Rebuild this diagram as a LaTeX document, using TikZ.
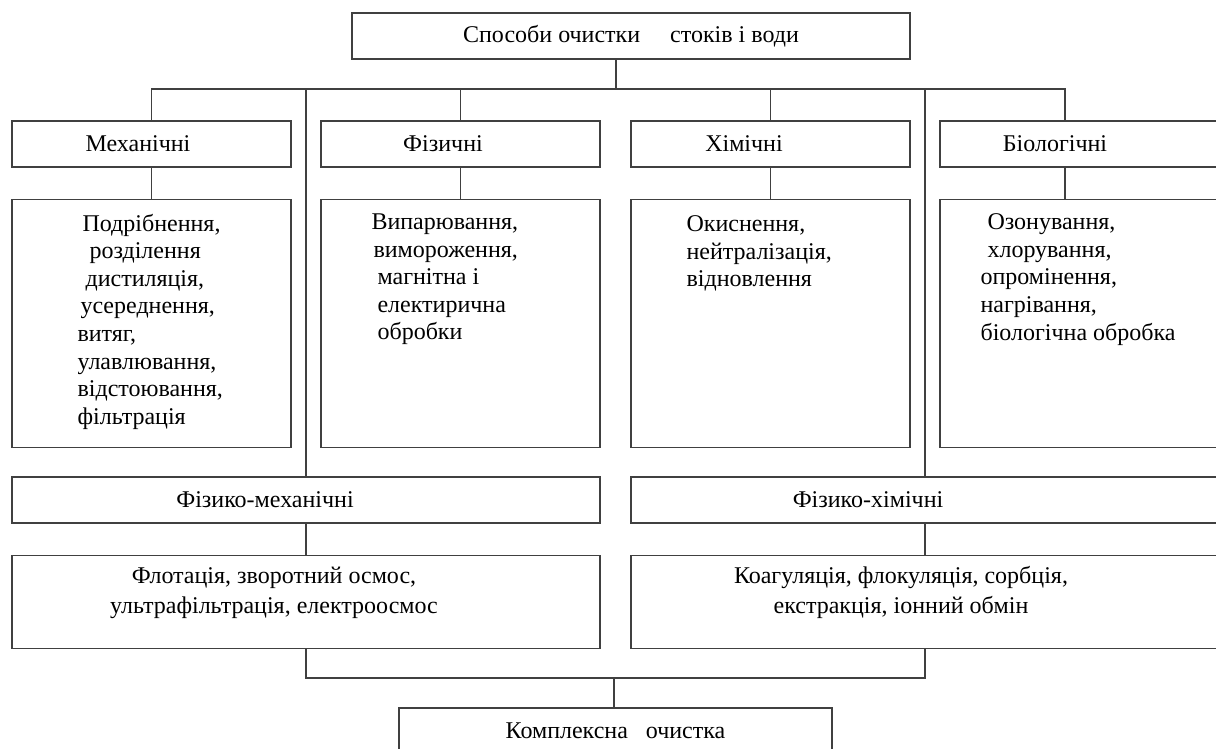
\documentclass[tikz,border=0pt]{standalone}
\usepackage{fontspec}
\setmainfont{Liberation Serif}
\usetikzlibrary{positioning}

\begin{document}
\begin{tikzpicture}[x=1pt, y=-1pt,
  every node/.style={font=\fontsize{24}{27.6}\selectfont},
  box/.style={draw=black!75, line width=1.3pt, inner sep=0pt, minimum height=46pt},
  narrow/.style={box, minimum width=279pt},
  wide/.style={box, minimum width=588pt},
  list/.style={box, minimum width=279pt, minimum height=248pt},
  items/.style={align=left, inner sep=0pt},
  lines/.style={align=center, inner sep=0pt, font=\fontsize{24}{30}\selectfont},
  wire/.style={draw=black!75, line width=1.3pt}]
  \useasboundingbox (0,0) rectangle (1216,749);
  \clip (0,0) rectangle (1216,749);

  % top
  \node[box, minimum width=558pt] (top) at (631,36) {Способи очистки \quad стоків і води};

  % four groups
  \node[narrow] (mech) at (151.5,144) {Механічні\hspace*{27pt}};
  \node[narrow] (phys) at (460.5,144) {Фізичні\hspace*{35pt}};
  \node[narrow] (chem) at (770.5,144) {Хімічні\hspace*{53pt}};
  \node[narrow] (bio) at (1079.5,144) {Біологічні\hspace*{49pt}};

  \node[list, below=31pt of mech] (mechList) {};
  \node[list, below=31pt of phys] (physList) {};
  \node[list, below=31pt of chem] (chemList) {};
  \node[list, below=31pt of bio] (bioList) {};

  \node[items, below right=15pt and 66pt of mechList.north west] (mechItems)
    {\hspace*{5pt}Подрібнення,\\ \hspace*{12pt}розділення\\ \hspace*{8pt}дистиляція,\\
     \hspace*{3pt}усереднення,\\ витяг,\\ улавлювання,\\ відстоювання,\\ фільтрація};
  \node[items, below right=15pt and 51pt of physList.north west] (physItems)
    {Випарювання,\\ \hspace*{2pt}вимороження,\\ \hspace*{6pt}магнітна і\\
     \hspace*{6pt}електирична\\ \hspace*{6pt}обробки};
  \node[items, below right=17pt and 56pt of chemList.north west] (chemItems)
    {Окиснення,\\ нейтралізація,\\ відновлення};
  \node[items, below right=15pt and 41pt of bioList.north west] (bioItems)
    {\hspace*{7pt}Озонування,\\ \hspace*{7pt}хлорування,\\ опромінення,\\
     нагрівання,\\ біологічна обробка};

  % combined groups
  \node[wide] (physmech) at (306,500) {Фізико-механічні\hspace*{82pt}};
  \node[wide] (physchem) at (925,500) {Фізико-хімічні\hspace*{114pt}};
  \node[wide, minimum height=93pt, below=31pt of physmech] (physmechList) {};
  \node[wide, minimum height=93pt, below=31pt of physchem] (physchemList) {};
  \node[lines, xshift=-32pt, yshift=9pt] (physmechItems) at (physmechList)
    {Флотація, зворотний осмос,\\ ультрафільтрація, електроосмос};
  \node[lines, xshift=-24pt, yshift=9pt] (physchemItems) at (physchemList)
    {Коагуляція, флокуляція, сорбція,\\ екстракція, іонний обмін};

  % result
  \node[box, minimum width=433pt] (total) at (615.5,731) {Комплексна \enskip очистка};

  % connectors
  \coordinate (hub) at (616,89);
  \coordinate (bioJoin) at (1065,89);
  \coordinate (low) at (614,678);
  \draw[wire] (top.south -| hub) -- (hub);
  \draw[wire] (mech.north) |- (bioJoin) -- (bioJoin |- bio.north);
  \draw[wire] (phys.north) -- (phys.north |- hub);
  \draw[wire] (chem.north) -- (chem.north |- hub);
  \draw[wire] (physmech.north) -- (physmech.north |- hub);
  \draw[wire] (physchem.north) -- (physchem.north |- hub);
  \draw[wire] (mech) -- (mechList);
  \draw[wire] (phys) -- (physList);
  \draw[wire] (chem) -- (chemList);
  \draw[wire] (bioJoin |- bio.south) -- (bioJoin |- bioList.north);
  \draw[wire] (physmech) -- (physmechList);
  \draw[wire] (physchem) -- (physchemList);
  \draw[wire] (physmechList.south) |- (low) -| (physchemList.south);
  \draw[wire] (low) -- (low |- total.north);
\end{tikzpicture}
\end{document}
